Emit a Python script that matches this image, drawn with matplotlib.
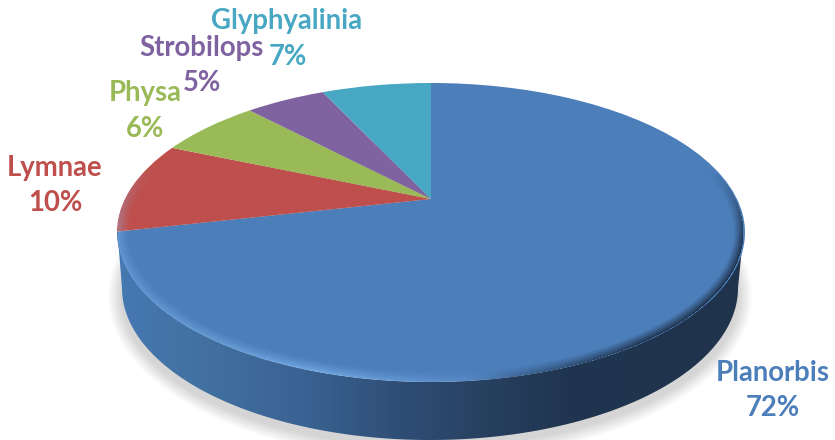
import numpy as np
import matplotlib
matplotlib.use("Agg")
import matplotlib.pyplot as plt
from matplotlib.colors import LinearSegmentedColormap, to_rgb
from matplotlib.patches import Ellipse, PathPatch
from matplotlib.path import Path
from matplotlib.transforms import Transform

plt.rcParams['font.family'] = ['Lato', 'DejaVu Sans']

names = ["Planorbis", "Lymnae", "Physa", "Strobilops", "Glyphyalinia"]
# slice sizes as measured on the picture, labels as printed on it
shares = [71.5, 9.9, 6.5, 5.1, 7.0]
pct_labels = ["72%", "10%", "6%", "5%", "7%"]
colors = ["#4c7eba", "#be4f4c", "#9aba58", "#7f62a0", "#48a8c3"]

# label centres in pixels, name line then percent line
name_pos = [(773, 373), (55, 168), (145, 93), (202, 48), (287, 21)]
pct_pos = [(773, 408), (55, 203), (145, 129), (202, 83), (288, 57)]

W, H = 835, 440
# top face seen in perspective: apex is above the middle of the ellipse
apex_x, apex_y = 431, 199
k = 0.224
sx, sy = 306, 142
cx, cy, rx, ry = 430.5, 232.5, 313, 149.5
# bottom rim of the disc
bx, by, brx, bry = 430, 288, 308, 152


class Perspective(Transform):
    input_dims = 2
    output_dims = 2
    is_separable = False
    has_inverse = False

    def transform_non_affine(self, values):
        u, v = np.asarray(values, dtype=float).T
        d = 1 + k * v
        return np.column_stack((apex_x + sx * u / d, apex_y - sy * v / d))


fig = plt.figure(figsize=(W / 100, H / 100), dpi=100)
ax = fig.add_axes([0, 0, 1, 1])

yy, xx = np.mgrid[0:H, 0:W] + 0.5

# soft shadow under the disc: stacked faint ellipses
for grow in np.arange(14, 0, -1.0):
    ax.add_patch(Ellipse((430, 296), 2 * (308 + grow), 2 * (150 + grow),
                         fc="#505050", ec="none", alpha=0.017, zorder=0.5))

# side of the disc, lower half of the face down to the bottom rim
t = np.radians(np.linspace(180, 360, 200))
outer = np.column_stack((bx + brx * np.cos(t), by - bry * np.sin(t)))
inner = np.column_stack((cx + rx * np.cos(t[::-1]), cy - ry * np.sin(t[::-1])))
side_path = Path(np.vstack((outer, inner, outer[:1])), closed=True)

stops = [(0.0, "#4678b2"), (0.15, "#41709f"), (0.3, "#3a6292"), (0.45, "#2f4e76"),
         (0.58, "#274161"), (0.72, "#20354f"), (1.0, "#1f334c")]
side_cmap = LinearSegmentedColormap.from_list("side", stops)
side_img = ax.imshow(np.linspace(0, 1, 300).reshape(1, -1), cmap=side_cmap,
                     extent=(115, 747, 445, 200), zorder=1, aspect="auto")
clip = PathPatch(side_path, transform=ax.transData, fc="none", ec="none")
ax.add_patch(clip)
side_img.set_clip_path(clip)

# top face
ax.pie(shares, colors=colors, startangle=90, counterclock=False,
       wedgeprops=dict(transform=Perspective() + ax.transData, linewidth=0, zorder=2))

# bevel along the edge of the face
r = np.sqrt(((xx - cx) / rx) ** 2 + ((yy - cy) / ry) ** 2)
grad = np.sqrt(((xx - cx) / rx ** 2) ** 2 + ((yy - cy) / ry ** 2) ** 2) / np.maximum(r, 1e-3)
d = (1 - r) / grad
inside = r < 1
light = np.interp(xx, [117, 210, 320, 420, 520], [0.35, 0.4, 0.6, 0.3, 0.0])
light *= np.interp(yy, [165, 225], [0, 1])
dark = np.interp(xx, [470, 560, 640], [0, 0.6, 1.0]) * np.interp(yy, [170, 240], [0, 1])
prof_l = np.clip(1 - d / 13, 0, 1) ** 1.5
prof_d = np.clip(1 - d / 10, 0, 1) ** 1.1
a_l = light * prof_l
a_d = dark * prof_d
alpha = a_l + a_d
bevel = np.zeros((H, W, 4))
dark_rgb = np.array(to_rgb("#1f334c"))
mix = (a_d / np.maximum(alpha, 1e-4))[..., None]
bevel[..., :3] = (1 - mix) * np.array([0.55, 0.78, 1.0]) + mix * dark_rgb
bevel[..., 3] = np.where(inside, np.clip(alpha, 0, 1), 0)
ax.imshow(bevel, extent=(0, W, H, 0), zorder=3, aspect="auto")

for name, label, color, p1, p2 in zip(names, pct_labels, colors, name_pos, pct_pos):
    ax.text(p1[0], p1[1], name, color=color, fontsize=19.8, fontweight="bold",
            ha="center", va="center", zorder=5)
    ax.text(p2[0], p2[1], label, color=color, fontsize=19.8, fontweight="bold",
            ha="center", va="center", zorder=5)

ax.set_aspect("auto")
ax.set_xlim(0, W)
ax.set_ylim(H, 0)
ax.axis("off")

fig.savefig("out.png", dpi=100)
